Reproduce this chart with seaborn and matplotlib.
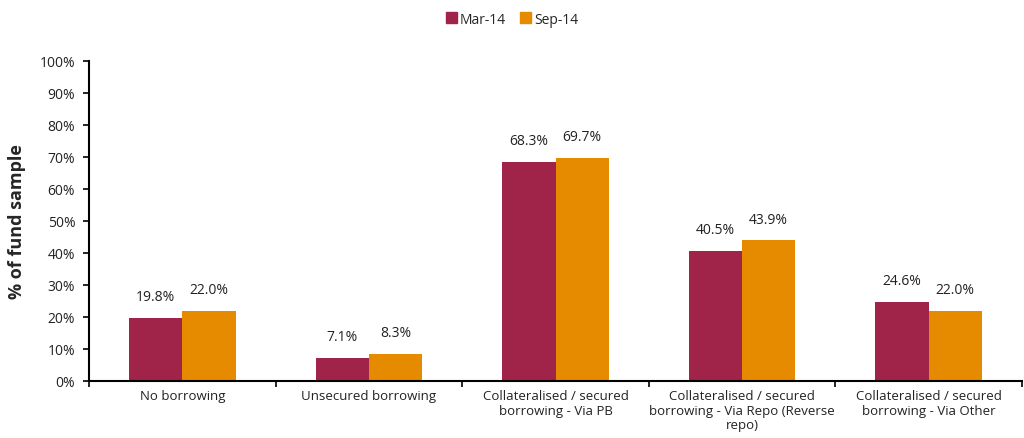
import matplotlib
matplotlib.use("Agg")
import matplotlib.pyplot as plt
import seaborn as sns
import pandas as pd
import numpy as np
from matplotlib.ticker import FixedLocator, FuncFormatter

categories = [
    "No borrowing",
    "Unsecured borrowing",
    "Collateralised / secured\nborrowing - Via PB",
    "Collateralised / secured\nborrowing - Via Repo (Reverse\nrepo)",
    "Collateralised / secured\nborrowing - Via Other",
]
mar14 = [19.8, 7.1, 68.3, 40.5, 24.6]
sep14 = [22.0, 8.3, 69.7, 43.9, 22.0]
series = ["Mar-14", "Sep-14"]
colors = ["#A0234A", "#E68A00"]

df = pd.DataFrame({
    "category": categories * 2,
    "value": mar14 + sep14,
    "period": [series[0]] * len(categories) + [series[1]] * len(categories),
})

sns.set_theme(style="white")
plt.rcParams["font.family"] = ["Open Sans", "DejaVu Sans"]

fig = plt.figure(figsize=(10.24, 4.39), dpi=100)
ax = fig.add_axes([0.087, 0.13, 0.911, 0.729])

sns.barplot(data=df, x="category", y="value", hue="period", palette=colors,
            width=0.57, saturation=1, ax=ax, legend=False, edgecolor="none")

for container in ax.containers:
    ax.bar_label(container, labels=[f"{v:.1f}%" for v in container.datavalues],
                 padding=10, fontsize=10, color="#222222")

ax.set_ylim(0, 100)
ax.set_xlim(-0.5, len(categories) - 0.5)
ax.yaxis.set_major_locator(FixedLocator(np.arange(0, 101, 10)))
ax.yaxis.set_major_formatter(FuncFormatter(lambda v, p: f"{v:.0f}%"))
ax.set_ylabel("% of fund sample", fontsize=13, fontweight="bold", labelpad=10)
ax.set_xlabel("")

# category labels at bar groups, ticks at group boundaries
ax.set_xticks(np.arange(-0.5, len(categories), 1.0))
ax.set_xticklabels([])
ax.set_xticks(np.arange(len(categories)), minor=True)
ax.set_xticklabels(categories, minor=True, fontsize=9.5, color="#222222", linespacing=1.15)
ax.tick_params(axis="x", which="minor", length=0, pad=6)
ax.tick_params(axis="x", which="major", direction="out", length=4, width=1.2, color="black", bottom=True)
ax.tick_params(axis="y", direction="out", length=4, width=1.2, color="black", left=True,
               labelsize=10, labelcolor="#222222", pad=6)

for s in ["top", "right"]:
    ax.spines[s].set_visible(False)
for s in ["left", "bottom"]:
    ax.spines[s].set_color("black")
    ax.spines[s].set_linewidth(1.5)

handles = [plt.Rectangle((0, 0), 1, 1, color=c) for c in colors]
fig.legend(handles, series, loc="upper center", bbox_to_anchor=(0.5, 1.0), ncol=2,
           frameon=False, fontsize=10, handlelength=0.8, handleheight=0.8,
           handletextpad=0.2, columnspacing=1.0)

fig.savefig("out.png", dpi=100)
